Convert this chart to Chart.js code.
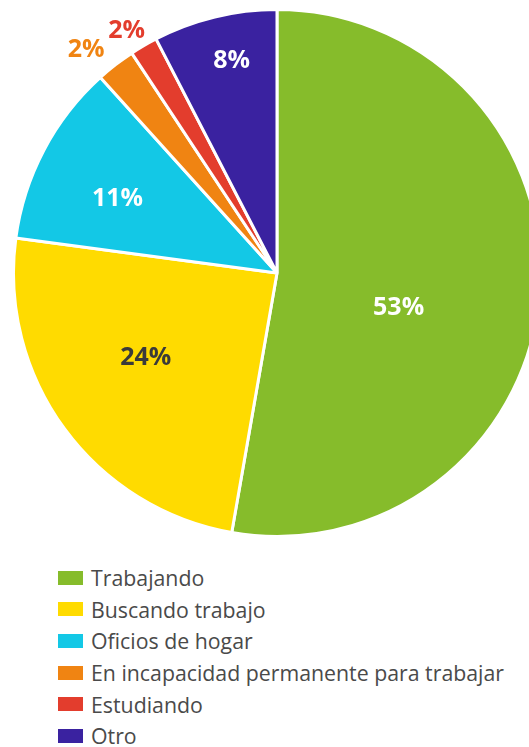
<!DOCTYPE html>
<html lang="es">
<head>
    <meta charset="UTF-8">
    <title>Ocupación</title>
    <style>
        html, body {
            margin: 0;
            padding: 0;
            background: #fff;
            overflow: hidden;
            width: 529px;
            height: 747px;
            font-family: "Open Sans", Arial, sans-serif;
        }
        .chart-box {
            position: absolute;
            left: 12px;
            top: 8px;
            width: 530px;
            height: 530px;
        }
        .legend {
            position: absolute;
            left: 58px;
            top: 562px;
            margin: 0;
            padding: 0;
            list-style: none;
        }
        .legend li {
            display: flex;
            align-items: center;
            height: 31.6px;
            font-size: 21.3px;
            color: #4a4a4a;
        }
        .legend span.box {
            display: inline-block;
            width: 25px;
            height: 14px;
            margin-right: 8px;
        }
    </style>
    <script src="https://cdn.jsdelivr.net/npm/chart.js"></script>
</head>
<body>
    <div class="chart-box"><canvas id="pie"></canvas></div>
    <ul class="legend" id="legend"></ul>

    <script>
        // data (percent)
        const categories = ['Trabajando', 'Buscando trabajo', 'Oficios de hogar',
            'En incapacidad permanente para trabajar', 'Estudiando', 'Otro'];
        const values = [52.8, 24.4, 11.2, 2.4, 1.7, 7.6];
        const shownLabels = ['53%', '24%', '11%', '2%', '2%', '8%'];

        // styling
        const colors = ['#86bc2b', '#ffdb00', '#13c8e6', '#f08412', '#e33d2d', '#3a22a0'];
        const labelColors = ['#ffffff', '#3a3a3a', '#ffffff', '#f08412', '#e33d2d', '#ffffff'];
        const labelRadius = [0.48, 0.593, 0.668, 1.114, 1.08, 0.823];
        const labelShift = [11, 3.4, -2.8, -2.8, -1.5, 1.6]; // degrees

        // legend
        const legend = document.getElementById('legend');
        categories.forEach((c, i) => {
            const li = document.createElement('li');
            li.innerHTML = `<span class="box" style="background:${colors[i]}"></span>${c}`;
            legend.appendChild(li);
        });

        // draws the percent labels on / beside each slice
        const sliceLabels = {
            id: 'sliceLabels',
            afterDatasetsDraw(chart) {
                const ctx = chart.ctx;
                const arcs = chart.getDatasetMeta(0).data;
                ctx.save();
                ctx.font = 'bold 25px "Open Sans", Arial, sans-serif';
                ctx.textAlign = 'center';
                ctx.textBaseline = 'middle';
                arcs.forEach((arc, i) => {
                    const mid = (arc.startAngle + arc.endAngle) / 2 + labelShift[i] * Math.PI / 180;
                    const r = arc.outerRadius * labelRadius[i];
                    ctx.fillStyle = labelColors[i];
                    ctx.fillText(shownLabels[i], arc.x + Math.cos(mid) * r, arc.y + Math.sin(mid) * r);
                });
                ctx.restore();
            }
        };

        new Chart(document.getElementById('pie'), {
            type: 'pie',
            data: {
                labels: categories,
                datasets: [{
                    data: values,
                    backgroundColor: colors,
                    borderColor: '#ffffff',
                    borderWidth: 3
                }]
            },
            options: {
                responsive: true,
                maintainAspectRatio: false,
                animation: false,
                layout: { padding: 0 },
                plugins: {
                    legend: { display: false },
                    tooltip: { enabled: false }
                }
            },
            plugins: [sliceLabels]
        });
    </script>
</body>
</html>
